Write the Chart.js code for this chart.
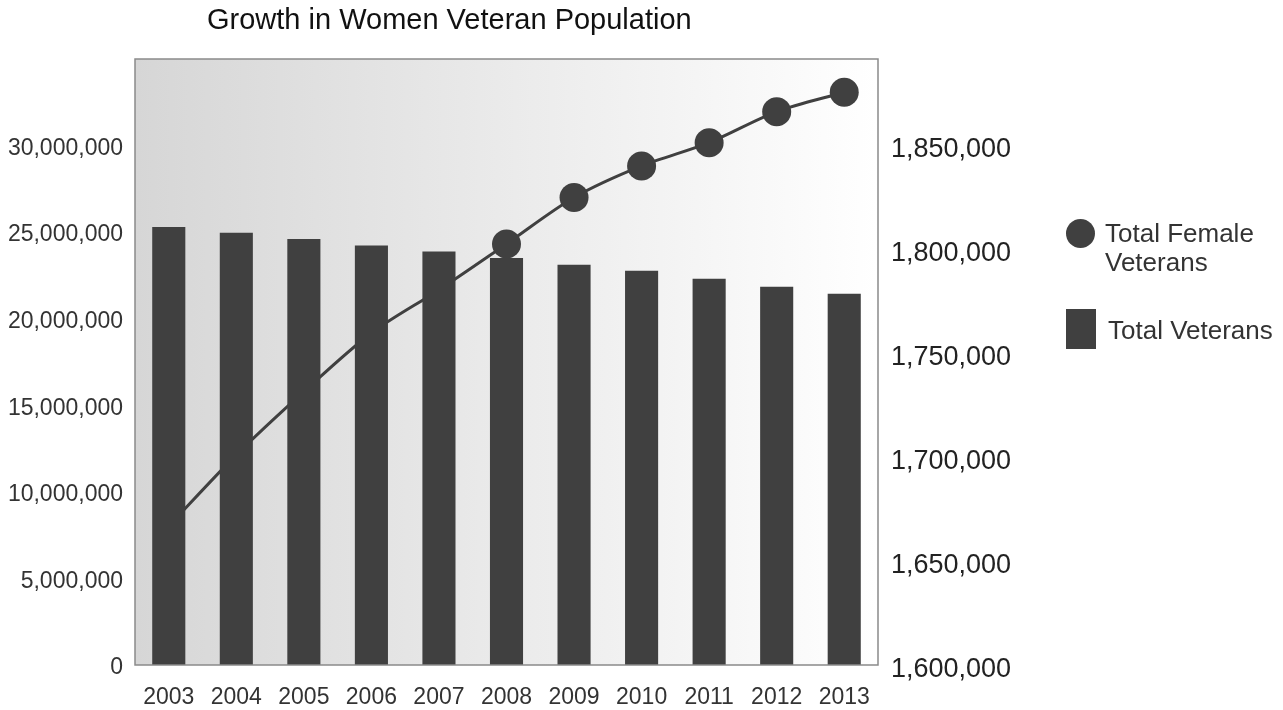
<!DOCTYPE html>
<html>
<head>
<meta charset="utf-8">
<script src="https://cdn.jsdelivr.net/npm/chart.js@4/dist/chart.umd.min.js"></script>
<style>
  html, body { margin: 0; padding: 0; background: #fff; }
  .wrap { position: relative; width: 1283px; height: 710px; font-family: "Liberation Sans", Arial, sans-serif; }
  .title { position: absolute; left: 207px; top: 3px; font-size: 29px; color: #111; white-space: nowrap; }
  .legend-item { position: absolute; font-size: 26px; line-height: 29px; color: #333; }
  .dot { position: absolute; left: 1066px; top: 219px; width: 29px; height: 29px; border-radius: 50%; background: #404040; }
  .sq { position: absolute; left: 1066px; top: 309px; width: 30px; height: 40px; background: #404040; }
</style>
</head>
<body>
<div class="wrap">
  <canvas id="chart" width="1283" height="710"></canvas>
  <div class="title">Growth in Women Veteran Population</div>
  <div class="dot"></div>
  <div class="legend-item" style="left:1105px; top:219px;">Total Female<br>Veterans</div>
  <div class="sq"></div>
  <div class="legend-item" style="left:1108px; top:316px;">Total Veterans</div>
</div>
<script>
const years = ['2003', '2004', '2005', '2006', '2007', '2008', '2009', '2010', '2011', '2012', '2013'];
const totalVeterans = [25290000, 24960000, 24600000, 24230000, 23880000, 23500000, 23120000, 22770000, 22310000, 21850000, 21440000];
const femaleVeterans = [1666800, 1701000, 1731400, 1759600, 1780300, 1802400, 1824700, 1839900, 1851100, 1866000, 1875300];

const leftTicks = [0, 5000000, 10000000, 15000000, 20000000, 25000000, 30000000];
const rightTicks = [1600000, 1650000, 1700000, 1750000, 1800000, 1850000];
const leftMax = 35000000;
const rightMax = 1891300;

// gradient background + frame around the plot area
const plotBg = {
  id: 'plotBg',
  beforeDatasetsDraw(chart) {
    const { ctx, chartArea: a } = chart;
    const g = ctx.createLinearGradient(a.left, 0, a.right, 0);
    g.addColorStop(0, '#d6d6d6');
    g.addColorStop(1, '#ffffff');
    ctx.save();
    ctx.fillStyle = g;
    ctx.fillRect(a.left, a.top, a.right - a.left, a.bottom - a.top);
    ctx.restore();
  },
  afterDatasetsDraw(chart) {
    const { ctx, chartArea: a } = chart;
    ctx.save();
    ctx.strokeStyle = '#8a8a8a';
    ctx.lineWidth = 1.5;
    ctx.strokeRect(a.left, a.top, a.right - a.left, a.bottom - a.top);
    ctx.restore();
  }
};

new Chart(document.getElementById('chart'), {
  type: 'bar',
  data: {
    labels: years,
    datasets: [
      {
        type: 'line',
        label: 'Total Female Veterans',
        data: femaleVeterans,
        yAxisID: 'y1',
        order: 2,
        borderColor: '#404040',
        borderWidth: 3,
        backgroundColor: '#404040',
        pointRadius: 14.5,
        pointBorderWidth: 0,
        pointBackgroundColor: '#404040',
        tension: 0.3
      },
      {
        type: 'bar',
        label: 'Total Veterans',
        data: totalVeterans,
        yAxisID: 'y',
        order: 1,
        backgroundColor: '#404040',
        barPercentage: 0.49,
        categoryPercentage: 1.0
      }
    ]
  },
  options: {
    responsive: false,
    animation: false,
    layout: { padding: { top: 59, left: 0, right: 0, bottom: 0 } },
    plugins: {
      legend: { display: false },
      title: { display: false },
      tooltip: { enabled: false }
    },
    scales: {
      x: {
        offset: true,
        grid: { display: false, drawTicks: false },
        border: { display: false },
        ticks: { color: '#333', padding: 19, font: { family: 'Liberation Sans', size: 23 } },
        afterFit(s) { s.height = 45; }
      },
      y: {
        position: 'left',
        min: 0,
        max: leftMax,
        grid: { display: false, drawTicks: false },
        border: { display: false },
        afterBuildTicks(s) { s.ticks = leftTicks.map(v => ({ value: v })); },
        ticks: {
          autoSkip: false,
          padding: 12,
          labelOffset: 3,
          color: '#333',
          font: { family: 'Liberation Sans', size: 23 },
          callback: v => v.toLocaleString('en-US')
        },
        afterFit(s) { s.width = 135; }
      },
      y1: {
        position: 'right',
        min: 1600000,
        max: rightMax,
        grid: { display: false, drawTicks: false },
        border: { display: false },
        afterBuildTicks(s) { s.ticks = rightTicks.map(v => ({ value: v })); },
        ticks: {
          autoSkip: false,
          padding: 13,
          labelOffset: 5,
          color: '#222',
          font: { family: 'Liberation Sans', size: 27 },
          callback: v => v.toLocaleString('en-US')
        },
        afterFit(s) { s.width = 405; }
      }
    }
  },
  plugins: [plotBg]
});
</script>
</body>
</html>
